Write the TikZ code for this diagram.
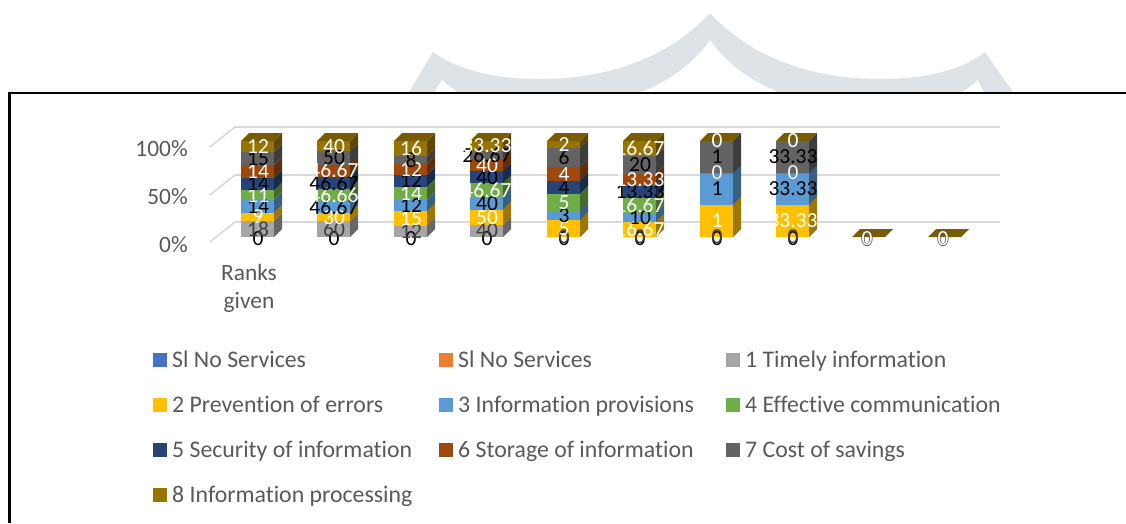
\documentclass[tikz,border=0pt]{standalone}
\usepackage{fontspec}
\setmainfont{Carlito}[Ligatures={NoCommon}]
\definecolor{ser1}{HTML}{A5A5A5}
\definecolor{ser2}{HTML}{FFC000}
\definecolor{ser3}{HTML}{5B9BD5}
\definecolor{ser4}{HTML}{70AD47}
\definecolor{ser5}{HTML}{264478}
\definecolor{ser6}{HTML}{9E480E}
\definecolor{ser7}{HTML}{636363}
\definecolor{ser8}{HTML}{997300}
\definecolor{serA}{HTML}{4472C4}
\definecolor{serB}{HTML}{ED7D31}
\definecolor{lab1}{HTML}{404040}
\colorlet{lab2}{white}
\colorlet{lab3}{black}
\colorlet{lab4}{white}
\colorlet{lab5}{black}
\colorlet{lab6}{white}
\colorlet{lab7}{black}
\colorlet{lab8}{white}
\definecolor{txt}{HTML}{595959}
\definecolor{gridc}{HTML}{D9D9D9}
\definecolor{wmark}{HTML}{DDE3E7}
\newcommand\mytot[1]{%
  \gdef\tot{0}%
  \foreach \v in {#1}{\pgfmathparse{\tot+\v}\xdef\tot{\pgfmathresult}}%
}
\newcommand\barcol[2]{%
  \mytot{#2}%
  \gdef\cum{0}%
  \foreach \v [count=\i] in {#2}{%
    \pgfmathsetmacro\ya{237-96*(\cum/\tot)}%
    \pgfmathparse{\cum+\v}\xdef\cum{\pgfmathresult}%
    \pgfmathsetmacro\yb{237-96*(\cum/\tot)}%
    \fill[ser\i] (#1,\ya) rectangle (#1+33,\yb);
    \fill[ser\i!62!black] (#1+33,\ya) -- (#1+41,\ya-8) -- (#1+41,\yb-8) -- (#1+33,\yb) -- cycle;
    \ifnum\i=8
      \fill[ser8!80!black] (#1,\yb) -- (#1+8,\yb-8) -- (#1+41,\yb-8) -- (#1+33,\yb) -- cycle;
    \fi
  }%
}
\newcommand\labcol[2]{%
  \mytot{#2}%
  \node[dlab, text=black] at (#1+17,239) {0};
  \gdef\cum{0}%
  \foreach \v [count=\i] in {#2}{%
    \pgfmathsetmacro\yc{237-96*((\cum+\v/2)/\tot)}%
    \node[dlab, text=lab\i] at (#1+17,\yc) {\v};
    \pgfmathparse{\cum+\v}\xdef\cum{\pgfmathresult}%
  }%
}
\newcommand\flatcol[1]{%
  \fill[ser8!80!black] (#1,237) -- (#1+8,229) -- (#1+41,229) -- (#1+33,237) -- cycle;
}
\newcommand\flatlab[1]{%
  \foreach \dx/\dy in {-0.7/0,0.7/0,0/-0.7,0/0.7}{\node[dlab, text=txt] at (#1+15+\dx,239+\dy) {0};}
  \node[dlab, text=white] at (#1+15,239) {0};
}
\begin{document}
\begin{tikzpicture}[x=1pt,y=-1pt,
  dlab/.style={inner sep=0pt, font=\fontsize{21.5}{24}\selectfont},
  axl/.style={inner sep=0pt, text=txt, font=\fontsize{23.4}{28}\selectfont},
  legt/.style={inner sep=0pt, anchor=base west, text=txt, font=\fontsize{23.8}{28}\selectfont},
  grid/.style={draw=gridc, line width=1.6pt}]
\useasboundingbox (0,0) rectangle (1126,523);
% watermark
\fill[wmark] (409,92) -- (433,52) .. controls (455,68) and (490,79) .. (540,79)
  .. controls (600,79) and (665,62) .. (710,13)
  .. controls (755,62) and (820,79) .. (880,79)
  .. controls (930,79) and (965,68) .. (985,52) -- (1013,92) -- cycle;
\fill[white] (434,93) -- (442,80) .. controls (455,92) and (470,100) .. (490,104) -- (600,104)
  .. controls (650,95) and (690,70) .. (710,40)
  .. controls (730,70) and (770,95) .. (820,104) -- (930,104)
  .. controls (950,100) and (965,92) .. (978,80) -- (984,93) -- cycle;
% frame
\draw[line width=2.2pt] (1126,93) -- (9.5,93) -- (9.5,523);
% gridlines
\foreach \y in {127,175,222} \draw[grid] (210,\y+20) -- (235,\y) -- (1000,\y);
% axis labels
\node[axl, anchor=base east] (p100) at (188,156) {100\%};
\node[axl, anchor=base east] (p50) at (188,204) {50\%};
\node[axl, anchor=base east] (p0) at (188,252) {0\%};
\node[axl, anchor=base] (rk) at (249,280) {Ranks};
\node[axl, anchor=base] (gv) at (249,308) {given};
% bars
\barcol{241}{18,9,14,11,14,14,15,12}
\barcol{317}{60,30,46.67,46.66,46.67,46.67,50,40}
\barcol{394}{12,15,12,14,12,12,8,16}
\barcol{470}{40,50,40,46.67,40,40,26.67,33.33}
\barcol{547}{0,5,3,5,4,4,6,2}
\barcol{623}{0,16.67,10,16.67,13.33,13.33,20,16.67}
\barcol{700}{0,1,1,0,0,0,1,0}
\barcol{776}{0,33.33,33.33,0,0,0,33.33,0}
\flatcol{852}
\flatcol{928}
% labels
\labcol{241}{18,9,14,11,14,14,15,12}
\labcol{317}{60,30,46.67,46.66,46.67,46.67,50,40}
\labcol{394}{12,15,12,14,12,12,8,16}
\labcol{470}{40,50,40,46.67,40,40,26.67,33.33}
\labcol{547}{0,5,3,5,4,4,6,2}
\labcol{623}{0,16.67,10,16.67,13.33,13.33,20,16.67}
\labcol{700}{0,1,1,0,0,0,1,0}
\labcol{776}{0,33.33,33.33,0,0,0,33.33,0}
\flatlab{852}
\flatlab{928}
% legend
\foreach \c/\t/\x/\b [count=\k] in {
  serA/Sl No Services/153/367, serB/Sl No Services/439/367, ser1/1 Timely information/726/367,
  ser2/2 Prevention of errors/153/412, ser3/3 Information provisions/439/412, ser4/4 Effective communication/726/412,
  ser5/5 Security of information/153/457, ser6/6 Storage of information/439/457, ser7/7 Cost of savings/726/457,
  ser8/8 Information processing/153/502}{
  \fill[\c] (\x,\b-14) rectangle (\x+14,\b);
  \node[legt] (leg\k) at (\x+19,\b) {\t};
}
\end{tikzpicture}
\end{document}
